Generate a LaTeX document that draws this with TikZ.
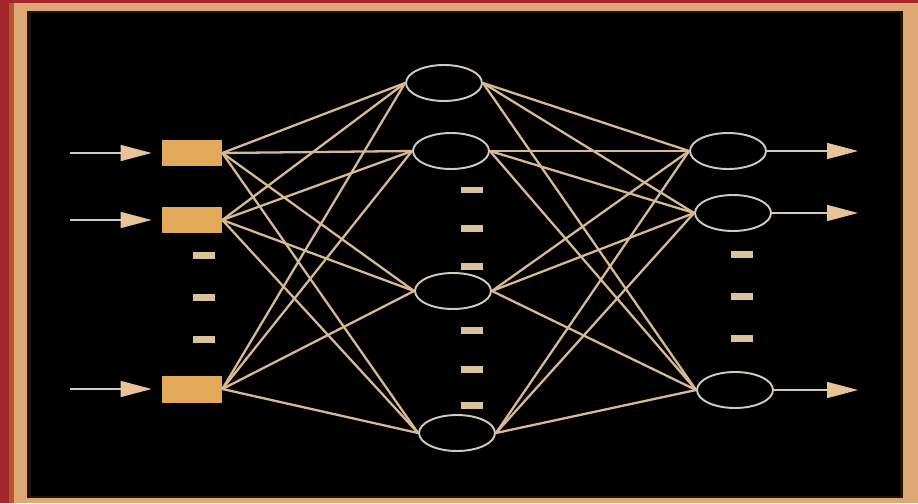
\documentclass[tikz,border=0pt]{standalone}
\usetikzlibrary{shapes.geometric,arrows.meta}
\definecolor{frametan}{HTML}{DDA874}
\definecolor{rimred}{HTML}{A2262A}
\definecolor{rimbrown}{HTML}{B9552A}
\definecolor{boxgold}{HTML}{E2AA58}
\definecolor{wiretan}{HTML}{D6BA92}
\definecolor{ringgray}{HTML}{D2CAC0}
\definecolor{dottan}{HTML}{D9C39A}
\definecolor{headtan}{HTML}{E6C496}
\begin{document}
\begin{tikzpicture}[
    x=0.02cm, y=-0.02cm,
    inbox/.style={fill=boxgold, minimum width=1.2cm, minimum height=0.54cm, inner sep=0},
    neuron/.style={ellipse, draw=ringgray, fill=black, line width=1.1pt,
        minimum width=1.52cm, minimum height=0.72cm, inner sep=0},
    gap/.style={fill=dottan, minimum width=0.44cm, minimum height=0.14cm, inner sep=0},
    wire/.style={draw=wiretan, line width=1.3pt},
    signal/.style={draw=ringgray, line width=0.9pt,
        -{Triangle[length=0.62cm, width=0.32cm, color=headtan, fill=headtan]}}
]
% frame
\fill[frametan] (0,0) rectangle (918,503);
\fill[rimred] (0,0) rectangle (9,503);
\fill[rimred] (0,0) rectangle (918,3);
\fill[rimbrown] (9,3) rectangle (14,503);
\fill[black!85!brown] (27,11) rectangle (903,498);
\fill[black] (31,13) rectangle (900,496);

% layers
\foreach \y [count=\i] in {153,220,389}
    \node[inbox] (in-\i) at (192,\y) {};
\foreach \x/\y [count=\j] in {444/83,451/151,453/291,457/433}
    \node[neuron] (hid-\j) at (\x,\y) {};
\foreach \x/\y [count=\k] in {728/151,733/213,735/390}
    \node[neuron] (out-\k) at (\x,\y) {};

% skipped units
\foreach \y [count=\n] in {255,297,339}
    \node[gap] (in-gap-\n) at (204,\y) {};
\foreach \y [count=\n] in {190,228,266,330,369,405}
    \node[gap] (hid-gap-\n) at (472,\y) {};
\foreach \y [count=\n] in {254,296,338}
    \node[gap] (out-gap-\n) at (742,\y) {};

% weights
\foreach \i in {1,2,3}
    \foreach \j in {1,...,4}
        \draw[wire] (in-\i.east) -- (hid-\j.west);
\foreach \j in {1,...,4}
    \foreach \k in {1,2,3}
        \draw[wire] (hid-\j.east) -- (out-\k.west);

% inputs and outputs
\foreach \y [count=\i] in {153,220,389} {
    \coordinate (src-\i) at (70,\y);
    \draw[signal, shorten >=0.2cm] (src-\i) -- (in-\i.west);
}
\foreach \y [count=\k] in {151,213,390} {
    \coordinate (sink-\k) at (858,\y);
    \draw[signal] (out-\k.east) -- (sink-\k);
}
\end{tikzpicture}
\end{document}
